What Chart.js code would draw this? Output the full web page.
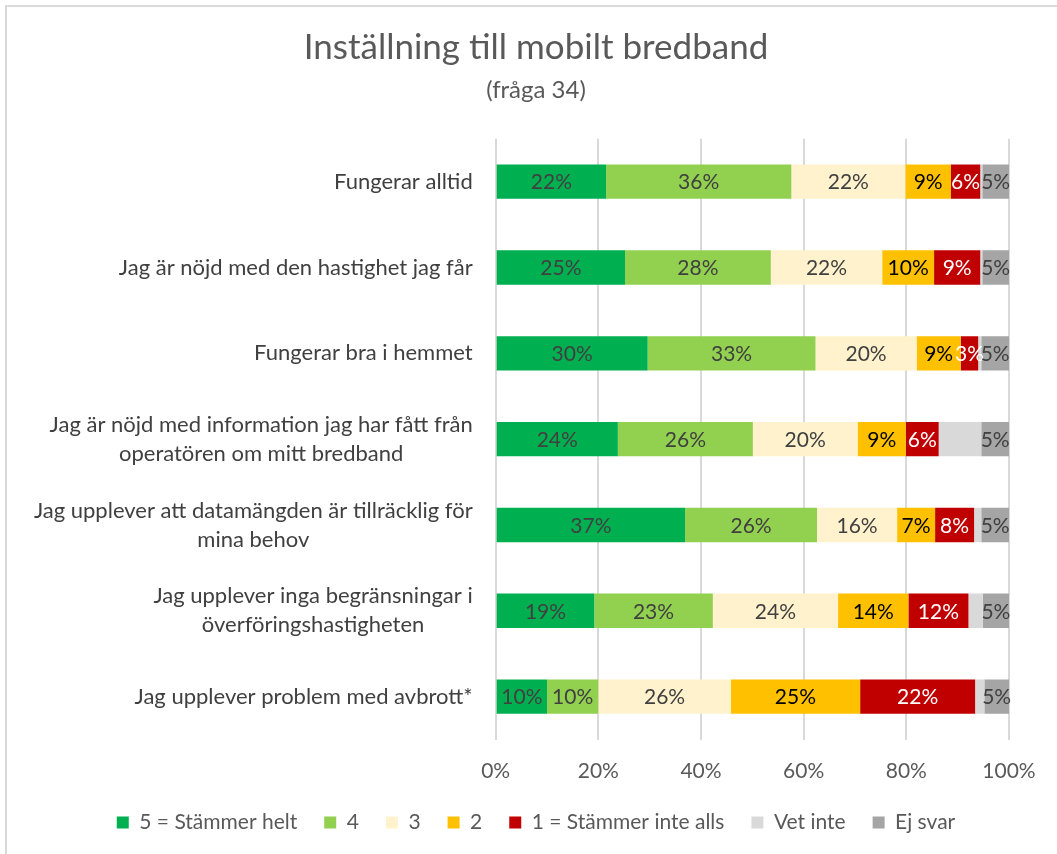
<!DOCTYPE html>
<html>
<head>
<meta charset="utf-8">
<script src="https://cdn.jsdelivr.net/npm/chart.js@4"></script>
<style>
  html, body { margin: 0; padding: 0; background: #fff; overflow: hidden; }
  #wrap { position: relative; width: 1057px; height: 854px; overflow: hidden; }
  #frame { position: absolute; left: 5px; top: 5px; width: 1200px; height: 1000px;
           border-left: 2px solid #d9d9d9; border-top: 2px solid #d9d9d9; }
  #chart { position: absolute; left: 0; top: 0; }
</style>
</head>
<body>
<div id="wrap">
  <div id="frame"></div>
  <canvas id="chart" width="1072" height="854"></canvas>
</div>
<script>
const categories = [
  "Fungerar alltid",
  "Jag är nöjd med den hastighet jag får",
  "Fungerar bra i hemmet",
  ["Jag är nöjd med information jag har fått från", "operatören om mitt bredband"],
  ["Jag upplever att datamängden är tillräcklig för", "mina behov"],
  ["Jag upplever inga begränsningar i", "överföringshastigheten"],
  "Jag upplever problem med avbrott*",
];

const seriesNames = ["5 = Stämmer helt", "4", "3", "2", "1 = Stämmer inte alls", "Vet inte", "Ej svar"];

// share of answers, percent
const s5 = [21.5, 25.2, 29.6, 23.8, 36.9, 19.2, 10.0];
const s4 = [36.1, 28.4, 32.7, 26.3, 25.7, 23.1, 10.0];
const s3 = [22.2, 21.7, 19.7, 20.4, 15.6, 24.4, 25.8];
const s2 = [8.9, 10.1, 8.6, 9.4, 7.4, 13.7, 25.2];
const s1 = [5.7, 9.0, 3.4, 6.4, 7.6, 11.7, 22.4];
const vetInte = [0.4, 0.4, 0.6, 8.3, 1.4, 2.8, 1.8];
const ejSvar = [5.2, 5.2, 5.4, 5.4, 5.4, 5.1, 4.8];

const xTicks = [0, 20, 40, 60, 80, 100];

const Config = {
  font: "Lato, sans-serif",
  colors: {
    series: ["#00b050", "#92d050", "#fff2cc", "#ffc000", "#c00000", "#d9d9d9", "#a5a5a5"],
    values: ["#404040", "#404040", "#404040", "#000000", "#ffffff", null, "#404040"],
    text: "#595959",
    label: "#404040",
    grid: "#d9d9d9",
  },
  plotLeft: 495.7,
  sidePad: 63,
  xAxisHeight: 45.5,
  catSize: 22,
  catGap: 23,
  catLine: 29,
  valueSize: 21,
};

const seriesData = [s5, s4, s3, s2, s1, vetInte, ejSvar];

const categoryLabels = {
  id: "categoryLabels",
  afterDraw(chart) {
    const c = chart.ctx;
    const yScale = chart.scales.y;
    c.save();
    c.font = `${Config.catSize}px ${Config.font}`;
    c.fillStyle = Config.colors.label;
    c.textAlign = "center";
    c.textBaseline = "middle";
    categories.forEach((cat, i) => {
      const lines = Array.isArray(cat) ? cat : [cat];
      const w = Math.max(...lines.map((l) => c.measureText(l).width));
      const cx = chart.chartArea.left - Config.catGap - w / 2;
      const cy = yScale.getPixelForValue(i);
      lines.forEach((l, j) => {
        c.fillText(l, cx, cy + (j - (lines.length - 1) / 2) * Config.catLine);
      });
    });
    c.restore();
  },
};

const valueLabels = {
  id: "valueLabels",
  afterDatasetsDraw(chart) {
    const c = chart.ctx;
    c.save();
    c.font = `${Config.valueSize}px ${Config.font}`;
    c.textAlign = "center";
    c.textBaseline = "middle";
    chart.data.datasets.forEach((ds, di) => {
      const color = Config.colors.values[di];
      if (!color) return;
      c.fillStyle = color;
      chart.getDatasetMeta(di).data.forEach((bar, i) => {
        const { x, y, base } = bar.getProps(["x", "y", "base"], true);
        c.fillText(Math.round(ds.data[i]) + "%", (x + base) / 2, y + 1);
      });
    });
    c.restore();
  },
};

new Chart(document.getElementById("chart"), {
  type: "bar",
  data: {
    labels: categories,
    datasets: seriesNames.map((name, i) => ({
      label: name,
      data: seriesData[i],
      backgroundColor: Config.colors.series[i],
      borderWidth: 0,
      barPercentage: 0.4,
      categoryPercentage: 1,
    })),
  },
  options: {
    indexAxis: "y",
    responsive: false,
    animation: false,
    layout: {
      padding: { left: Config.sidePad, right: Config.sidePad, top: 0, bottom: 11 },
    },
    scales: {
      x: {
        stacked: true,
        min: 0,
        max: 100,
        afterBuildTicks: (s) => {
          s.ticks = xTicks.map((v) => ({ value: v }));
        },
        afterFit: (s) => {
          s.paddingLeft = 0;
          s.paddingRight = 0;
          s.height = Config.xAxisHeight;
        },
        ticks: {
          padding: 19,
          color: Config.colors.text,
          font: { size: 21, family: Config.font },
          callback: (v) => v + "%",
        },
        grid: { color: Config.colors.grid, lineWidth: 2, drawTicks: false },
        border: { display: false },
      },
      y: {
        stacked: true,
        ticks: { display: false },
        grid: { display: false },
        border: { display: false },
        afterFit: (s) => {
          s.width = Config.plotLeft - Config.sidePad;
        },
      },
    },
    plugins: {
      title: {
        display: true,
        text: "Inställning till mobilt bredband",
        color: Config.colors.text,
        font: { size: 35, family: Config.font, weight: "normal" },
        padding: { top: 27, bottom: 0 },
      },
      subtitle: {
        display: true,
        text: "(fråga 34)",
        color: Config.colors.text,
        font: { size: 24, family: Config.font },
        padding: { top: 7, bottom: 34 },
      },
      legend: {
        position: "bottom",
        labels: {
          boxWidth: 12,
          boxHeight: 12,
          padding: 27,
          color: Config.colors.text,
          font: { size: 21, family: Config.font },
        },
      },
      tooltip: { enabled: false },
    },
  },
  plugins: [categoryLabels, valueLabels],
});
</script>
</body>
</html>
